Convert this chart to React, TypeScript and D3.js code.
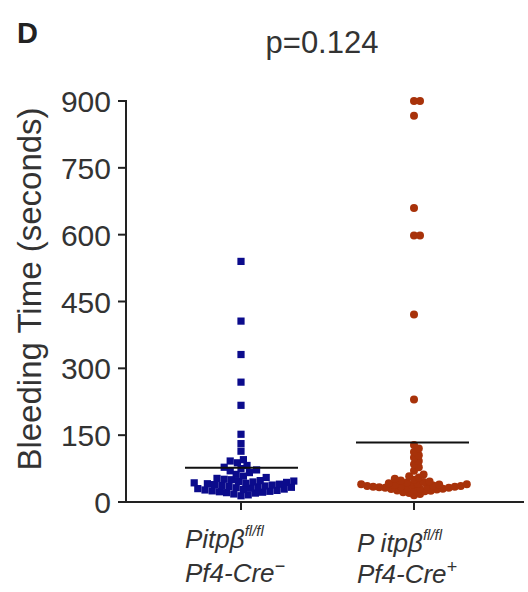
import React from "react";
import * as d3 from "d3";

const groups = ["ctrl", "ko"];
const blueValues = [540, 406, 331, 269, 217, 152, 131, 114, 95, 92, 88, 82, 78, 75, 72, 70, 66, 62, 58, 55, 53, 51, 50, 48, 47, 46, 45, 44, 43, 42, 41, 40, 39, 38, 37, 36, 35, 34, 33, 32, 31, 30, 29, 28, 27, 26, 25, 24, 23, 22, 21, 20, 18, 16, 14];
const redValues = [900, 900, 867, 660, 598, 598, 421, 230, 128, 120, 112, 105, 100, 92, 85, 78, 70, 62, 58, 55, 52, 50, 48, 46, 45, 44, 42, 41, 40, 40, 39, 38, 38, 37, 36, 36, 35, 35, 34, 34, 33, 32, 32, 31, 30, 30, 29, 28, 27, 26, 25, 24, 22, 20, 18, 15];
const yTicks = [0, 150, 300, 450, 600, 750, 900];
const colors = ["#0b0b8c", "#a8320a"];

const W = 528, H = 592;
const axisX = 126, axisY = 502, topY = 101;
const y = d3.scaleLinear().domain([0, 900]).range([axisY, topY]);
const x = d3.scalePoint().domain(groups).range([241, 414]);

function swarm(values: number[], cx: number, D: number) {
  const pts = values.map((v) => ({ v, py: y(v), px: cx })).sort((a, b) => a.v - b.v);
  const placed: { px: number; py: number; v: number }[] = [];
  for (const p of pts) {
    for (let k = 0; k < 300; k++) {
      const off = k === 0 ? 0 : Math.ceil(k / 2) * (k % 2 ? 1 : -1) * 1.2;
      const px = cx + off;
      const ok = placed.every((q) => Math.hypot(q.px - px, q.py - p.py) >= D);
      if (ok) { p.px = px; break; }
    }
    placed.push(p);
  }
  return placed;
}

export default function App() {
  const blue = swarm(blueValues, x("ctrl")!, 6.6);
  const red = swarm(redValues, x("ko")!, 5.2);
  const meanB = d3.mean(blueValues)!;
  const meanR = d3.mean(redValues)!;
  const font = "Liberation Sans, Arial, sans-serif";
  return (
    <svg width={W} height={H} style={{ position: "absolute", left: 0, top: 0 }} fontFamily={font}>
      <rect width={W} height={H} fill="#fff" />
      <text x={17} y={43} fontSize={29} fontWeight="bold" fill="#222">D</text>
      <text x={322} y={53} fontSize={31} textAnchor="middle" fill="#333">p=0.124</text>
      <text transform={`translate(41,289) rotate(-90)`} fontSize={33} textAnchor="middle" fill="#333">Bleeding Time (seconds)</text>
      {yTicks.map((t) => (
        <g key={t}>
          <line x1={axisX - 8} x2={axisX} y1={y(t)} y2={y(t)} stroke="#222" strokeWidth={2} />
          <text x={axisX - 15} y={y(t) + 11} fontSize={30} textAnchor="end" fill="#333">{t}</text>
        </g>
      ))}
      <line x1={axisX} x2={axisX} y1={topY - 1} y2={axisY + 1} stroke="#222" strokeWidth={2} />
      <line x1={axisX - 1} x2={524} y1={axisY} y2={axisY} stroke="#222" strokeWidth={2} />
      {groups.map((g) => (
        <line key={g} x1={x(g)} x2={x(g)} y1={axisY} y2={axisY + 8} stroke="#222" strokeWidth={2} />
      ))}
      {blue.map((p, i) => (
        <rect key={"b" + i} x={p.px - 3.6} y={p.py - 3.6} width={7.2} height={7.2} fill={colors[0]} />
      ))}
      {red.map((p, i) => (
        <circle key={"r" + i} cx={p.px} cy={p.py} r={4} fill={colors[1]} />
      ))}
      <line x1={x("ctrl")! - 56} x2={x("ctrl")! + 57} y1={y(meanB)} y2={y(meanB)} stroke="#111" strokeWidth={2} />
      <line x1={x("ko")! - 58} x2={x("ko")! + 55} y1={y(meanR)} y2={y(meanR)} stroke="#111" strokeWidth={2} />
      <g fontStyle="italic" fontSize={26} fill="#333">
        <text x={185} y={548}>Pitpβ<tspan fontSize={15} dy={-12}>fl/fl</tspan></text>
        <text x={185} y={582}>Pf4-Cre<tspan fontSize={18} dy={-10}>−</tspan></text>
        <text x={357} y={552}>P itpβ<tspan fontSize={15} dy={-12}>fl/fl</tspan></text>
        <text x={357} y={583}>Pf4-Cre<tspan fontSize={18} dy={-10}>+</tspan></text>
      </g>
    </svg>
  );
}
